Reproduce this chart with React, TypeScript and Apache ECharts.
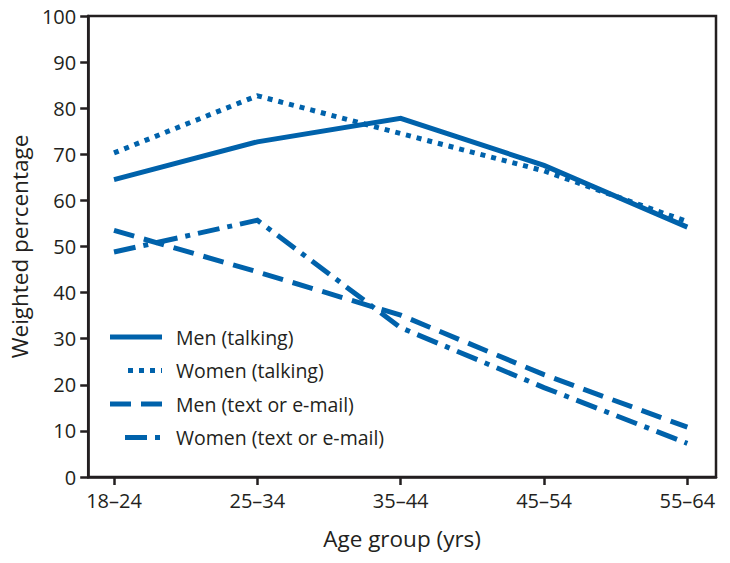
import React, { useEffect, useRef } from "react";
import * as echarts from "echarts";

const categories = ["18–24", "25–34", "35–44", "45–54", "55–64"];
const menTalking = [64.5, 72.7, 77.8, 67.6, 54.2];
const womenTalking = [70.3, 82.7, 74.5, 66.4, 55.4];
const menText = [53.5, 44.5, 35.1, 22.2, 10.8];
const womenText = [48.8, 55.7, 32.4, 19.4, 7.3];
const seriesNames = ["Men (talking)", "Women (talking)", "Men (text or e-mail)", "Women (text or e-mail)"];
const yTicks = [0, 10, 20, 30, 40, 50, 60, 70, 80, 90, 100];

const BLUE = "#0062ab";
const INK = "#231f20";
const FONT = "Open Sans";

const dashes: (number[] | "solid")[] = ["solid", [5, 6], [21, 10], [22, 8, 5, 8]];
const seriesData = [menTalking, womenTalking, menText, womenText];

export default function App() {
  const ref = useRef<HTMLDivElement>(null);
  useEffect(() => {
    if (!ref.current) return;
    const chart = echarts.init(ref.current, null, { renderer: "svg" });
    const legendTop = 337;
    const legendGap = 33.5;
    const legendStarts = [110, 128, 110, 125];
    const graphic: any[] = [];
    seriesNames.forEach((name, i) => {
      const y = legendTop + i * legendGap;
      const d = dashes[i];
      graphic.push({
        type: "line",
        shape: { x1: legendStarts[i], y1: y, x2: 162, y2: y },
        style: { stroke: BLUE, lineWidth: 5, lineDash: d === "solid" ? null : d },
        silent: true,
      });
      graphic.push({
        type: "text",
        x: 176,
        y: y,
        style: { text: name, fill: INK, font: `19.5px "${FONT}"`, textVerticalAlign: "middle" },
        silent: true,
      });
    });
    chart.setOption({
      animation: false,
      backgroundColor: "#ffffff",
      grid: {
        left: 79,
        right: 14,
        top: 16,
        bottom: 86,
        show: true,
        borderColor: INK,
        borderWidth: 2.5,
        backgroundColor: "transparent",
      },
      xAxis: {
        type: "value",
        min: -0.18,
        max: 4.2,
        name: "Age group (yrs)",
        nameLocation: "middle",
        nameGap: 50,
        nameTextStyle: { color: INK, fontSize: 22.5, fontFamily: FONT },
        axisLine: { show: true, onZero: false, lineStyle: { color: INK, width: 2.5 } },
        axisTick: { show: true, customValues: [0, 1, 2, 3, 4], length: 8, lineStyle: { color: INK, width: 2.5 } },
        axisLabel: {
          customValues: [0, 1, 2, 3, 4],
          formatter: (v: number) => categories[Math.round(v)] ?? "",
          color: INK,
          fontSize: 20,
          fontFamily: FONT,
          margin: 13,
        },
        splitLine: { show: false },
      },
      yAxis: {
        type: "value",
        min: 0,
        max: 100,
        interval: 10,
        name: "Weighted percentage",
        nameLocation: "middle",
        nameGap: 54,
        nameTextStyle: { color: INK, fontSize: 22.5, fontFamily: FONT },
        axisLine: { show: true, onZero: false, lineStyle: { color: INK, width: 2.5 } },
        axisTick: { show: true, length: 8, lineStyle: { color: INK, width: 2.5 } },
        axisLabel: {
          color: INK,
          fontSize: 20,
          fontFamily: FONT,
          margin: 12,
          formatter: (v: number) => (yTicks.includes(v) ? String(v) : ""),
        },
        splitLine: { show: false },
      },
      graphic,
      series: seriesNames.map((name, i) => ({
        name,
        type: "line",
        symbol: "none",
        data: seriesData[i].map((v, j) => [j, v]),
        lineStyle: {
          color: BLUE,
          width: 5,
          type: dashes[i],
          cap: "butt",
          join: "miter",
        },
        z: 2 + (3 - i),
      })),
    });
    return () => chart.dispose();
  }, []);
  return <div ref={ref} style={{ width: 730, height: 563, position: "absolute", left: 0, top: 0 }} />;
}
